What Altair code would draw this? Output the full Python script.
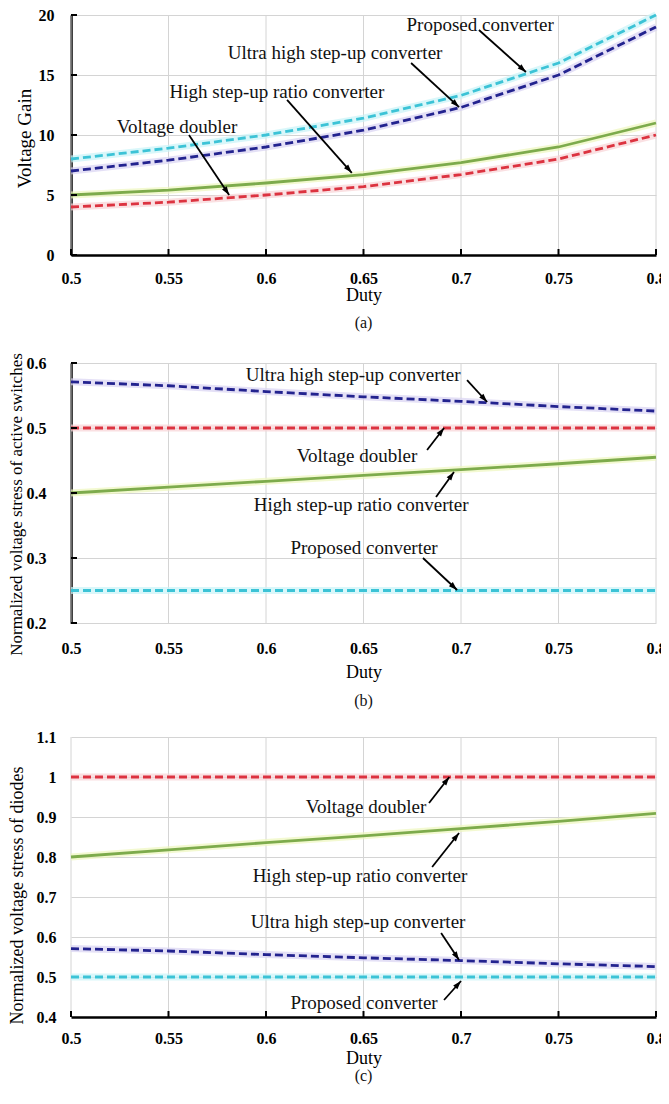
import math
import altair as alt
import pandas as pd

# ---------------- data ----------------
duty = [0.5, 0.55, 0.6, 0.65, 0.7, 0.75, 0.8]
names = ["Proposed converter", "Ultra high step-up converter",
         "High step-up ratio converter", "Voltage doubler"]

# (a) voltage gain
gain_proposed = [8.0, 8.9, 10.0, 11.4, 13.3, 16.0, 20.0]
gain_ultra = [7.0, 7.9, 9.0, 10.4, 12.3, 15.0, 19.0]
gain_high = [5.0, 5.4, 6.0, 6.7, 7.7, 9.0, 11.0]
gain_doubler = [4.0, 4.4, 5.0, 5.7, 6.7, 8.0, 10.0]

# (b) normalized voltage stress of active switches
sw_proposed = [0.25, 0.25, 0.25, 0.25, 0.25, 0.25, 0.25]
sw_ultra = [0.571, 0.565, 0.556, 0.548, 0.541, 0.533, 0.526]
sw_high = [0.400, 0.409, 0.418, 0.427, 0.436, 0.445, 0.455]
sw_doubler = [0.5, 0.5, 0.5, 0.5, 0.5, 0.5, 0.5]

# (c) normalized voltage stress of diodes
dio_proposed = [0.5, 0.5, 0.5, 0.5, 0.5, 0.5, 0.5]
dio_ultra = [0.571, 0.565, 0.556, 0.548, 0.541, 0.533, 0.526]
dio_high = [0.800, 0.818, 0.836, 0.853, 0.871, 0.889, 0.909]
dio_doubler = [1.0, 1.0, 1.0, 1.0, 1.0, 1.0, 1.0]

ticks_a = [0, 5, 10, 15, 20]
ticks_b = [0.2, 0.3, 0.4, 0.5, 0.6]
ticks_c = [0.4, 0.5, 0.6, 0.7, 0.8, 0.9, 1.0, 1.1]

# annotations: label, text position, arrow start, arrow tip
ann_a_text = ["Proposed converter", "Ultra high step-up converter",
              "High step-up ratio converter", "Voltage doubler"]
ann_a_tx = [0.7098, 0.6354, 0.6056, 0.5544]
ann_a_ty = [19.17, 16.83, 13.58, 10.67]
ann_a_x1 = [0.7092, 0.6744, 0.6108, 0.5605]
ann_a_y1 = [18.75, 16.0, 12.92, 10.0]
ann_a_x2 = [0.7333, 0.699, 0.644, 0.5811]
ann_a_y2 = [15.25, 12.33, 6.85, 5.0]

ann_b_text = ["Ultra high step-up converter", "Voltage doubler",
              "High step-up ratio converter", "Proposed converter"]
ann_b_tx = [0.6447, 0.6467, 0.6488, 0.6503]
ann_b_ty = [0.5815, 0.4569, 0.3815, 0.3154]
ann_b_x1 = [0.7031, 0.6826, 0.6872, 0.6805]
ann_b_y1 = [0.5738, 0.4662, 0.3938, 0.300]
ann_b_x2 = [0.7134, 0.6913, 0.6964, 0.698]
ann_b_y2 = [0.540, 0.500, 0.4323, 0.2508]

ann_c_text = ["Voltage doubler", "High step-up ratio converter",
              "Ultra high step-up converter", "Proposed converter"]
ann_c_tx = [0.6513, 0.6482, 0.6472, 0.6503]
ann_c_ty = [0.925, 0.7525, 0.6375, 0.435]
ann_c_x1 = [0.6836, 0.6852, 0.6898, 0.6913]
ann_c_y1 = [0.935, 0.775, 0.61, 0.4425]
ann_c_x2 = [0.694, 0.699, 0.699, 0.700]
ann_c_y2 = [1.0, 0.86, 0.5425, 0.49]

# ---------------- style ----------------
FONT = "Liberation Serif, Times New Roman, Times, DejaVu Serif, serif"
W = 585
GRID = "#d4d4d4"
colors = ["#3cc3d6", "#23238f", "#7dab4c", "#dc3340"]
glows = ["#c9f3f8", "#d9d3f2", "#eef6bd", "#f8d3d6"]
dashes = [[8, 4], [8, 4], None, [8, 4]]
ARROW = "M0,0L-0.6,1.8L0.6,1.8Z"


def panel(series, ydom, yticks, H, top_off, ytitle, ytitle_size, ytitle_x, ytitle_y,
          ylabel_pad, xlabel_pad, duty_y, caption, caption_y,
          left_black, bottom_black, ann):
    X = alt.X("duty:Q",
              scale=alt.Scale(domain=[0.5, 0.8], nice=False, zero=False),
              axis=alt.Axis(values=duty, format="~g", grid=False, ticks=False,
                            labelFlush=False,
                            domain=bottom_black, domainColor="black", domainWidth=2.5,
                            labelPadding=xlabel_pad, title="Duty", titleY=duty_y,
                            titleBaseline="middle"))
    Y = alt.Y("value:Q",
              scale=alt.Scale(domain=list(ydom), nice=False, zero=False,
                              range=[H, top_off]),
              axis=alt.Axis(values=yticks, format="~g", grid=True, ticks=False,
                            labelFlush=False,
                            domain=left_black, domainColor="black", domainWidth=2.5,
                            labelPadding=ylabel_pad, title=ytitle,
                            titleFontSize=ytitle_size, titleX=ytitle_x,
                            titleY=ytitle_y, titleBaseline="middle"))

    layers = []
    grid_df = pd.DataFrame({"duty": duty, "value": [ydom[0]] * len(duty),
                            "value2": [ydom[1]] * len(duty)})
    layers.append(alt.Chart(grid_df).mark_rule(color=GRID, strokeWidth=1)
                  .encode(x=X, y=Y, y2="value2:Q"))

    for name, vals, glow in zip(names, series, glows):
        df = pd.DataFrame({"duty": duty, "value": vals})
        layers.append(alt.Chart(df).mark_line(color=glow, strokeWidth=7, opacity=0.7)
                      .encode(x=X, y=Y))
    for name, vals, col, dash in zip(names, series, colors, dashes):
        df = pd.DataFrame({"duty": duty, "value": vals})
        kw = dict(color=col, strokeWidth=2.8)
        if dash:
            kw["strokeDash"] = dash
        layers.append(alt.Chart(df).mark_line(**kw).encode(x=X, y=Y))

    if left_black:
        tdf = pd.DataFrame({"duty": [0.5] * len(yticks), "value": yticks})
        layers.append(alt.Chart(tdf).mark_tick(orient="horizontal", size=6, thickness=2,
                                               xOffset=3, color="black", opacity=1)
                      .encode(x=X, y=Y))
    if bottom_black:
        tdf = pd.DataFrame({"duty": duty, "value": [ydom[0]] * len(duty)})
        layers.append(alt.Chart(tdf).mark_tick(orient="vertical", size=6, thickness=2,
                                               yOffset=-3, color="black", opacity=1)
                      .encode(x=X, y=Y))

    text, tx, ty, x1, y1, x2, y2 = ann
    kx = W / 0.3
    ky = (H - top_off) / (ydom[1] - ydom[0])
    adf = pd.DataFrame({"duty": x1, "value": y1, "duty2": x2, "value2": y2})
    layers.append(alt.Chart(adf).mark_rule(color="black", strokeWidth=1.8)
                  .encode(x=X, y=Y, x2="duty2:Q", y2="value2:Q"))
    angles = []
    for a, b, c, d in zip(x1, y1, x2, y2):
        dx = (c - a) * kx
        up = (d - b) * ky
        angles.append(math.degrees(math.atan2(dx, up)) % 360)
    hdf = pd.DataFrame({"duty": x2, "value": y2, "angle": angles})
    layers.append(alt.Chart(hdf).mark_point(shape=ARROW, filled=True, size=90,
                                            color="black", opacity=1, strokeWidth=0)
                  .encode(x=X, y=Y, angle=alt.Angle("angle:Q", scale=None)))
    tdf = pd.DataFrame({"duty": tx, "value": ty, "label": text})
    layers.append(alt.Chart(tdf).mark_text(font=FONT, fontSize=19, align="center",
                                           baseline="middle", color="#111111")
                  .encode(x=X, y=Y, text="label:N"))

    cdf = pd.DataFrame({"caption": [caption]})
    layers.append(alt.Chart(cdf).mark_text(font=FONT, fontSize=16, align="center",
                                           baseline="middle", color="#111111")
                  .encode(x=alt.value(W / 2), y=alt.value(caption_y),
                          text="caption:N"))

    return alt.layer(*layers).properties(width=W, height=H)


pa = panel([gain_proposed, gain_ultra, gain_high, gain_doubler], (0, 20), ticks_a,
           240, 0, "Voltage Gain", 19, -47, 123, 17, 15, 40, "(a)", 308,
           True, True,
           (ann_a_text, ann_a_tx, ann_a_ty, ann_a_x1, ann_a_y1, ann_a_x2, ann_a_y2))
pb = panel([sw_proposed, sw_ultra, sw_high, sw_doubler], (0.2, 0.6), ticks_b,
           260, 0, "Normalized voltage stress of active switches", 17, -54.5, 141,
           25, 17, 49, "(b)", 338, True, False,
           (ann_b_text, ann_b_tx, ann_b_ty, ann_b_x1, ann_b_y1, ann_b_x2, ann_b_y2))
pc = panel([dio_proposed, dio_ultra, dio_high, dio_doubler], (0.4, 1.1), ticks_c,
           286, 6, "Normalized voltage stress of diodes", 18, -54, 164,
           15, 13, 41, "(c)", 345, False, True,
           (ann_c_text, ann_c_tx, ann_c_ty, ann_c_x1, ann_c_y1, ann_c_x2, ann_c_y2))

chart = (alt.vconcat(pa, pb, pc, spacing=108, bounds="flush")
         .properties(padding={"left": -1, "top": -7, "right": -9, "bottom": 4},
                     background="white")
         .configure_view(stroke=None)
         .configure_axis(labelFont=FONT, labelFontSize=16, labelFontWeight="bold",
                         labelColor="black", titleFont=FONT, titleFontSize=18,
                         titleFontWeight="normal", titleColor="black",
                         gridColor=GRID, gridWidth=1))

chart.save("out.html", embed_options={"renderer": "svg", "actions": False})
